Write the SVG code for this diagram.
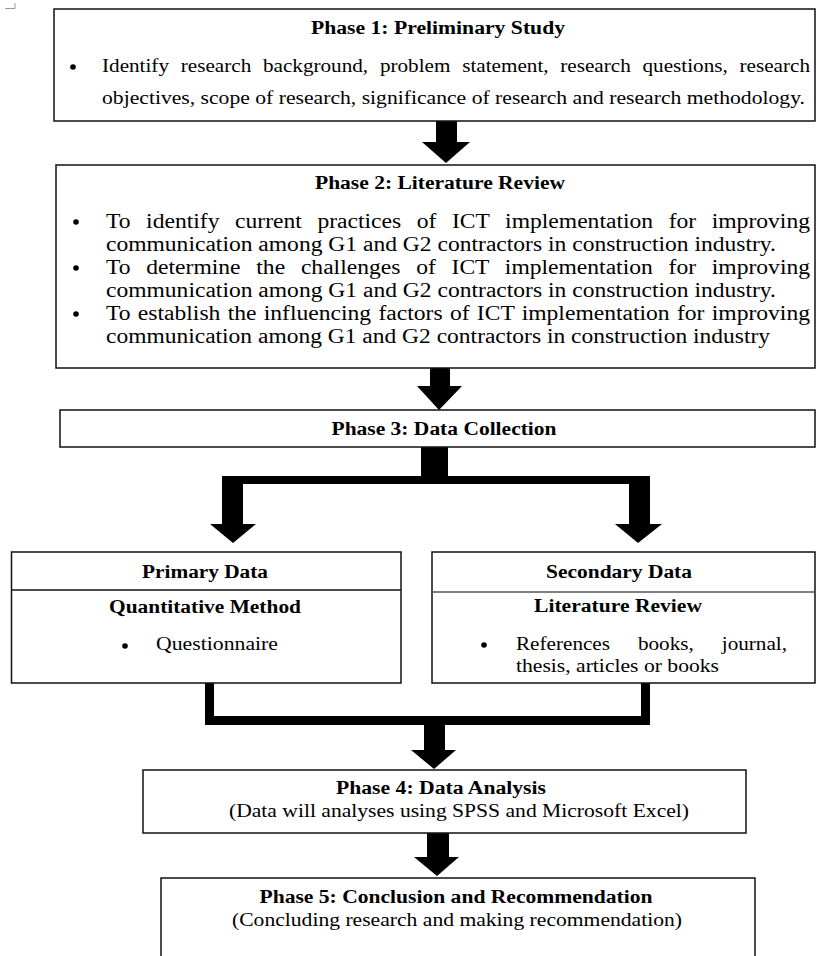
<svg xmlns="http://www.w3.org/2000/svg" width="817" height="956" viewBox="0 0 817 956">
<style>
.box{fill:#fff;stroke:#111;stroke-width:1.5}
.t{font-family:"Liberation Serif","Times New Roman",serif;font-size:18px;fill:#000}
.l{font-size:20px}
.b{font-weight:bold}
.c{text-anchor:middle}
.arr{fill:#000;stroke:none}
.dot{fill:#000}
</style>
<rect width="817" height="956" fill="#fff"/>
<path d="M5 8.5H15V3" fill="none" stroke="#999" stroke-width="1"/>

<g id="connectors">
  <polygon class="arr" points="436,121 457,121 457,142 470,142 446,163 422,142 436,142"/>
  <polygon class="arr" points="430,368 450,368 450,386 462,386 439,410 417,386 430,386"/>
  <rect class="arr" x="421" y="447" width="27" height="30"/>
  <rect class="arr" x="222" y="476" width="428" height="8"/>
  <polygon class="arr" points="222,476 243,476 243,524 256,524 233,543 210,524 222,524"/>
  <polygon class="arr" points="629,476 650,476 650,524 662,524 638,543 615,524 629,524"/>
  <path d="M209.5 683V720.5H645.5V683" fill="none" stroke="#000" stroke-width="9"/>
  <polygon class="arr" points="424,725 445,725 445,750 456,750 434,769 411,750 424,750"/>
  <polygon class="arr" points="427,833 449,833 449,857 459,857 437,876 414,857 427,857"/>
</g>

<g id="phase1">
  <rect class="box" x="54" y="9" width="761" height="112"/>
  <text class="t b c" x="438" y="34" textLength="254" lengthAdjust="spacingAndGlyphs">Phase 1: Preliminary Study</text>
  <circle class="dot" cx="73" cy="67" r="2.8"/>
  <text class="t" x="102" y="72" textLength="708" lengthAdjust="spacingAndGlyphs" word-spacing="5.5">Identify research background, problem statement, research questions, research</text>
  <text class="t" x="102" y="104" textLength="703" lengthAdjust="spacingAndGlyphs">objectives, scope of research, significance of research and research methodology.</text>
</g>

<g id="phase2">
  <rect class="box" x="56" y="165" width="759" height="203"/>
  <text class="t b c" x="440" y="189" textLength="250" lengthAdjust="spacingAndGlyphs">Phase 2: Literature Review</text>
  <circle class="dot" cx="76" cy="222" r="2.8"/>
  <text class="t l" x="106" y="228" textLength="704" lengthAdjust="spacingAndGlyphs" word-spacing="8.2">To identify current practices of ICT implementation for improving</text>
  <text class="t l" x="106" y="251" textLength="670" lengthAdjust="spacingAndGlyphs">communication among G1 and G2 contractors in construction industry.</text>
  <circle class="dot" cx="76" cy="268" r="2.8"/>
  <text class="t l" x="106" y="274" textLength="704" lengthAdjust="spacingAndGlyphs" word-spacing="8.4">To determine the challenges of ICT implementation for improving</text>
  <text class="t l" x="106" y="297" textLength="670" lengthAdjust="spacingAndGlyphs">communication among G1 and G2 contractors in construction industry.</text>
  <circle class="dot" cx="76" cy="314" r="2.8"/>
  <text class="t l" x="106" y="320" textLength="704" lengthAdjust="spacingAndGlyphs" word-spacing="1.2">To establish the influencing factors of ICT implementation for improving</text>
  <text class="t l" x="106" y="343" textLength="664" lengthAdjust="spacingAndGlyphs">communication among G1 and G2 contractors in construction industry</text>
</g>

<g id="phase3">
  <rect class="box" x="60" y="410" width="755" height="37"/>
  <text class="t b c" x="444" y="435" textLength="225" lengthAdjust="spacingAndGlyphs">Phase 3: Data Collection</text>
</g>

<g id="primary">
  <rect class="box" x="11.5" y="552" width="389.5" height="131"/>
  <line x1="11.5" y1="590" x2="401" y2="590" stroke="#111" stroke-width="1.5"/>
  <text class="t b c" x="205" y="578" textLength="126" lengthAdjust="spacingAndGlyphs">Primary Data</text>
  <text class="t b c" x="205" y="613" textLength="192" lengthAdjust="spacingAndGlyphs">Quantitative Method</text>
  <circle class="dot" cx="125" cy="646" r="2.8"/>
  <text class="t" x="156" y="650" textLength="122" lengthAdjust="spacingAndGlyphs">Questionnaire</text>
</g>

<g id="secondary">
  <rect class="box" x="432" y="552" width="383" height="131"/>
  <line x1="432" y1="592" x2="815" y2="592" stroke="#555" stroke-width="1.5"/>
  <text class="t b c" x="619" y="578" textLength="146" lengthAdjust="spacingAndGlyphs">Secondary Data</text>
  <text class="t b c" x="618" y="612" textLength="168" lengthAdjust="spacingAndGlyphs">Literature Review</text>
  <circle class="dot" cx="484" cy="645" r="2.8"/>
  <text class="t" x="516" y="650" textLength="271" lengthAdjust="spacingAndGlyphs" word-spacing="19.3">References books, journal,</text>
  <text class="t" x="516" y="672" textLength="203" lengthAdjust="spacingAndGlyphs">thesis, articles or books</text>
</g>

<g id="phase4">
  <rect class="box" x="143" y="770" width="603" height="63"/>
  <text class="t b c" x="441" y="794" textLength="210" lengthAdjust="spacingAndGlyphs">Phase 4: Data Analysis</text>
  <text class="t c" x="459" y="817" textLength="460" lengthAdjust="spacingAndGlyphs">(Data will analyses using SPSS and Microsoft Excel)</text>
</g>

<g id="phase5">
  <path d="M161 960V878H755V960" fill="#fff" stroke="#111" stroke-width="1.5"/>
  <text class="t b c" x="456" y="903" textLength="393" lengthAdjust="spacingAndGlyphs">Phase 5: Conclusion and Recommendation</text>
  <text class="t c" x="457" y="926" textLength="450" lengthAdjust="spacingAndGlyphs">(Concluding research and making recommendation)</text>
</g>
</svg>
